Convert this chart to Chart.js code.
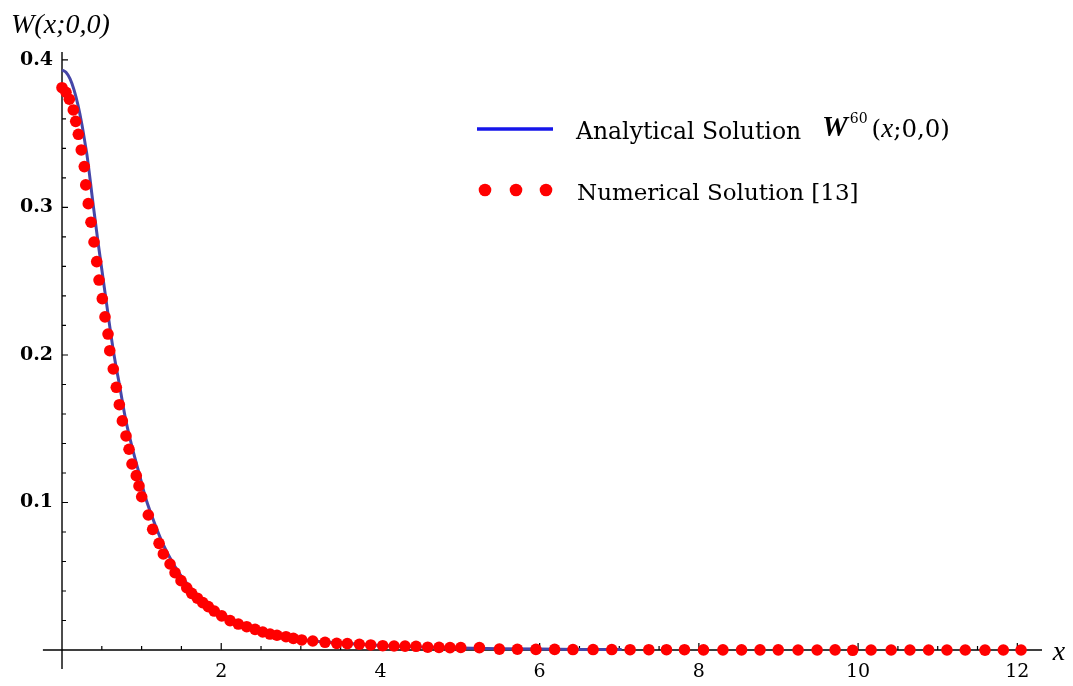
<!DOCTYPE html>
<html>
<head>
<meta charset="utf-8">
<script src="https://cdn.jsdelivr.net/npm/chart.js@4.4.1/dist/chart.umd.min.js"></script>
<style>
  html, body { margin: 0; padding: 0; background: #ffffff; }
  #wrap { position: relative; width: 1073px; height: 686px; }
  canvas { display: block; }
</style>
</head>
<body>
<div id="wrap"><canvas id="c" width="1073" height="686"></canvas></div>
<script>
// ---------- data ----------
const analyticX = [0, 0.05, 0.1, 0.15, 0.2, 0.25, 0.3, 0.314, 0.39, 0.452, 0.551, 0.645, 0.727, 0.803, 0.887, 0.978, 1.046, 1.124, 1.259, 1.392, 1.53, 1.73, 1.943, 2.24, 2.633, 3.03, 3.5, 4.0, 4.5, 5.0, 5.5, 6.0, 6.5, 7.03];
const analyticY = [0.3932, 0.3917, 0.3873, 0.3799, 0.3696, 0.3563, 0.3401, 0.3355, 0.3026, 0.2766, 0.2382, 0.2029, 0.1781, 0.1553, 0.1361, 0.1178, 0.1039, 0.0915, 0.0730, 0.0590, 0.0476, 0.0356, 0.0268, 0.0180, 0.0112, 0.0070, 0.0047, 0.0031, 0.0021, 0.0014, 0.0009, 0.0006, 0.0004, 0.0003];

const numericX = [0.00, 0.050, 0.092, 0.142, 0.172, 0.205, 0.242, 0.280, 0.298, 0.330, 0.364, 0.402, 0.436, 0.465, 0.506, 0.540, 0.578, 0.600, 0.644, 0.682, 0.720, 0.758, 0.804, 0.842, 0.879, 0.933, 0.967, 1.001, 1.084, 1.139, 1.219, 1.273, 1.357, 1.420, 1.495, 1.567, 1.629, 1.700, 1.768, 1.838, 1.913, 2.006, 2.111, 2.215, 2.320, 2.425, 2.521, 2.613, 2.700, 2.814, 2.906, 3.011, 3.150, 3.304, 3.451, 3.584, 3.735, 3.878, 4.029, 4.171, 4.309, 4.447, 4.594, 4.736, 4.874, 5.009, 5.243, 5.494, 5.720, 5.953, 6.188, 6.418, 6.671, 6.906, 7.136, 7.371, 7.593, 7.819, 8.058, 8.302, 8.536, 8.768, 8.997, 9.246, 9.485, 9.711, 9.932, 10.163, 10.415, 10.651, 10.886, 11.116, 11.346, 11.594, 11.824, 12.047];
const numericY = [0.3812, 0.3781, 0.3734, 0.3661, 0.3584, 0.3496, 0.3390, 0.3277, 0.3153, 0.3026, 0.2900, 0.2766, 0.2633, 0.2508, 0.2382, 0.2258, 0.2142, 0.2029, 0.1905, 0.1781, 0.1663, 0.1553, 0.1451, 0.1361, 0.1261, 0.1182, 0.1112, 0.1039, 0.0915, 0.0818, 0.0723, 0.0651, 0.0583, 0.0524, 0.0470, 0.0422, 0.0384, 0.0351, 0.0321, 0.0294, 0.0264, 0.0231, 0.0199, 0.0176, 0.0158, 0.0140, 0.0122, 0.0108, 0.0100, 0.0090, 0.0079, 0.0068, 0.0061, 0.0052, 0.0045, 0.0043, 0.0039, 0.0034, 0.0029, 0.0027, 0.0026, 0.0025, 0.0019, 0.0018, 0.0016, 0.0017, 0.0016, 0.0006, 0.0005, 0.0004, 0.0004, 0.0003, 0.0003, 0.0003, 0.0002, 0.0002, 0.0002, 0.0002, 0.0001, 0.0001, 0.0001, 0.0001, 0.0001, 0.0000, 0.0000, 0.0001, -0.0002, 0.0000, 0.0000, 0.0000, 0.0000, 0.0000, 0.0000, -0.0001, 0.0000, 0.0000];

const xTickValues = [2, 4, 6, 8, 10, 12];
const xTickLabels = ['2', '4', '6', '8', '10', '12'];
const xMinorTicks = [0.5, 1, 1.5, 2.5, 3, 3.5, 4.5, 5, 5.5, 6.5, 7, 7.5, 8.5, 9, 9.5, 10.5, 11, 11.5];
const yTickValues = [0.1, 0.2, 0.3, 0.4];
const yTickLabels = ['0.1', '0.2', '0.3', '0.4'];
const yMinorTicks = [0.02, 0.04, 0.06, 0.08, 0.12, 0.14, 0.16, 0.18, 0.22, 0.24, 0.26, 0.28, 0.32, 0.34, 0.36, 0.38];
const xAxisExtent = [-0.24, 12.31];
const yAxisExtent = [-0.0129, 0.4054];

const yAxisTitle = 'W(x;0,0)';
const xAxisTitle = 'x';
const legendLine = 'Analytical Solution';
const legendDots = 'Numerical Solution [13]';

// ---------- plugins ----------
const axesPlugin = {
  id: 'mathAxes',
  beforeDatasetsDraw(chart) {
    const { ctx, scales: { x, y } } = chart;
    const x0 = x.getPixelForValue(0), y0 = y.getPixelForValue(0);
    ctx.save();
    ctx.strokeStyle = '#000';
    ctx.lineWidth = 1.4;
    ctx.beginPath();
    ctx.moveTo(x.getPixelForValue(xAxisExtent[0]), y0); ctx.lineTo(x.getPixelForValue(xAxisExtent[1]), y0);
    ctx.moveTo(x0, y.getPixelForValue(yAxisExtent[1])); ctx.lineTo(x0, y.getPixelForValue(yAxisExtent[0]));
    ctx.stroke();
    ctx.lineWidth = 1.2;
    ctx.beginPath();
    xTickValues.forEach(v => { const p = x.getPixelForValue(v); ctx.moveTo(p, y0); ctx.lineTo(p, y0 - 7); });
    xMinorTicks.forEach(v => { const p = x.getPixelForValue(v); ctx.moveTo(p, y0); ctx.lineTo(p, y0 - 4); });
    yTickValues.forEach(v => { const p = y.getPixelForValue(v); ctx.moveTo(x0, p); ctx.lineTo(x0 + 6, p); });
    yMinorTicks.forEach(v => { const p = y.getPixelForValue(v); ctx.moveTo(x0, p); ctx.lineTo(x0 + 4, p); });
    ctx.stroke();
    ctx.restore();
  },
  afterDraw(chart) {
    const { ctx } = chart;
    ctx.save();
    ctx.fillStyle = '#000';
    ctx.textBaseline = 'alphabetic';
    // axis titles
    ctx.font = 'italic 28px "Liberation Serif"';
    ctx.textAlign = 'left';
    ctx.fillText(yAxisTitle, 11, 33);
    ctx.textAlign = 'center';
    ctx.fillText(xAxisTitle, 1059, 660);
    // legend: line
    ctx.textAlign = 'left';
    ctx.strokeStyle = '#1515ea';
    ctx.lineWidth = 3.5;
    ctx.beginPath(); ctx.moveTo(477, 129); ctx.lineTo(553, 129); ctx.stroke();
    ctx.font = '23.5px "DejaVu Serif"';
    ctx.fillText(legendLine, 576, 139);
    // math label W^60(x;0,0)
    let cx = 822;
    ctx.font = 'bold italic 29px "Liberation Serif"';
    ctx.fillText('W', cx, 136); cx += ctx.measureText('W').width + 2;
    ctx.font = '14px "DejaVu Serif"';
    ctx.fillText('60', cx, 123); cx += ctx.measureText('60').width + 4;
    ctx.font = '24.5px "DejaVu Serif"';
    ctx.fillText('(', cx, 137); cx += ctx.measureText('(').width;
    ctx.font = 'italic 27px "Liberation Serif"';
    ctx.fillText('x', cx, 137); cx += ctx.measureText('x').width;
    ctx.font = '24.5px "DejaVu Serif"';
    ctx.fillText(';0,0)', cx, 137);
    // legend: dots
    ctx.fillStyle = '#ff0000';
    [485, 516, 546].forEach(px => { ctx.beginPath(); ctx.arc(px, 190, 6.3, 0, Math.PI * 2); ctx.fill(); });
    ctx.fillStyle = '#000';
    ctx.font = '23px "DejaVu Serif"';
    ctx.fillText(legendDots, 577, 200);
    ctx.restore();
  }
};

// ---------- chart ----------
new Chart(document.getElementById('c'), {
  type: 'scatter',
  data: {
    datasets: [
      {
        label: 'Numerical Solution [13]',
        data: numericX.map((v, i) => ({ x: v, y: numericY[i] })),
        showLine: false,
        pointRadius: 5.8,
        pointBackgroundColor: '#ff0000',
        pointBorderWidth: 0,
        clip: false,
        order: 0
      },
      {
        label: 'Analytical Solution',
        data: analyticX.map((v, i) => ({ x: v, y: analyticY[i] })),
        showLine: true,
        borderColor: 'rgb(70,70,168)',
        borderWidth: 3,
        pointRadius: 0,
        cubicInterpolationMode: 'monotone',
        clip: false,
        order: 1
      }
    ]
  },
  options: {
    responsive: false,
    animation: false,
    devicePixelRatio: 1,
    layout: { padding: { top: 52, right: 31, left: 0, bottom: 0 } },
    plugins: { legend: { display: false }, tooltip: { enabled: false }, title: { display: false } },
    scales: {
      x: {
        type: 'linear',
        min: -0.088,
        max: 12.31,
        grid: { display: false, drawTicks: false, tickLength: 0 },
        border: { display: false },
        afterBuildTicks: s => { s.ticks = xTickValues.map(v => ({ value: v })); },
        afterFit: s => { s.height = 31; },
        ticks: {
          padding: 6,
          color: '#000',
          font: { family: '"DejaVu Serif"', size: 19 },
          callback: (v, i) => xTickLabels[i]
        }
      },
      y: {
        type: 'linear',
        min: -0.0034,
        max: 0.4054,
        grid: { display: false, drawTicks: false, tickLength: 0 },
        border: { display: false },
        afterBuildTicks: s => { s.ticks = yTickValues.map(v => ({ value: v })); },
        afterFit: s => { s.width = 55; },
        ticks: {
          padding: 2,
          color: '#000',
          font: { family: '"DejaVu Serif"', size: 19, weight: 'bold' },
          callback: (v, i) => yTickLabels[i]
        }
      }
    }
  },
  plugins: [axesPlugin]
});
</script>
</body>
</html>
